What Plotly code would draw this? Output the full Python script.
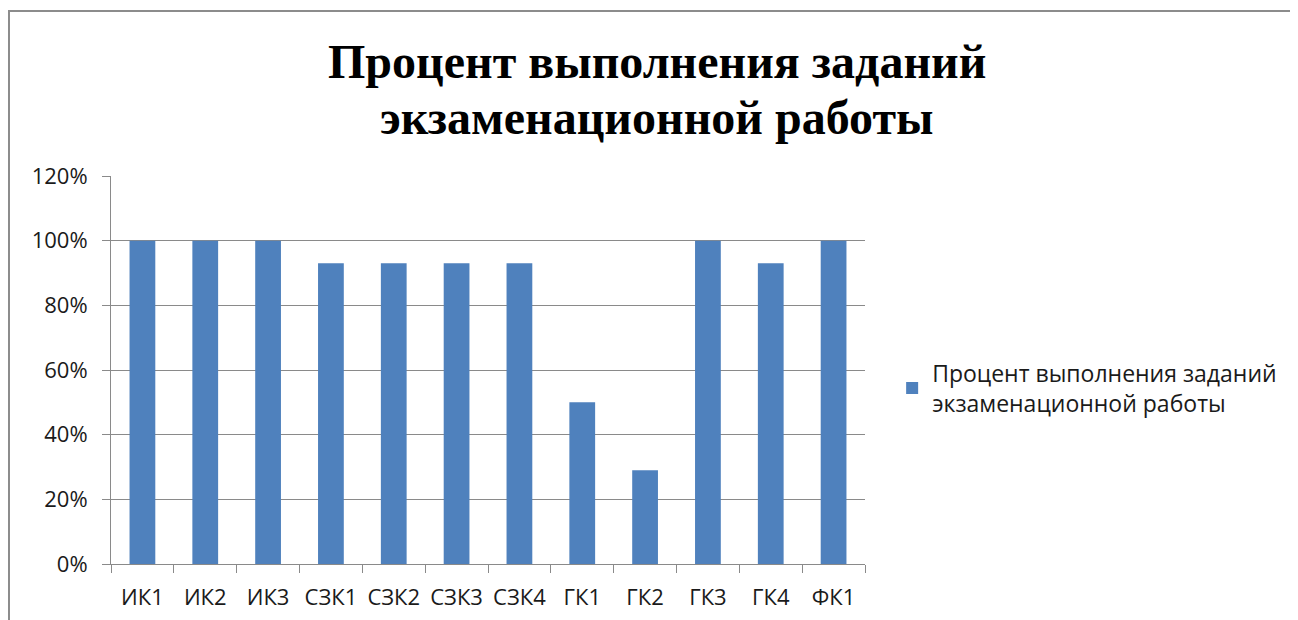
import plotly.graph_objects as go

categories = ["ИК1", "ИК2", "ИК3", "СЗК1", "СЗК2", "СЗК3", "СЗК4", "ГК1", "ГК2", "ГК3", "ГК4", "ФК1"]
percent_done = [1.00, 1.00, 1.00, 0.93, 0.93, 0.93, 0.93, 0.50, 0.29, 1.00, 0.93, 1.00]
series_name = "Процент выполнения заданий<br>экзаменационной работы"
title_lines = ["Процент выполнения заданий", "экзаменационной работы"]
y_ticks = [0, 0.2, 0.4, 0.6, 0.8, 1.0, 1.2]

fig = go.Figure()
fig.add_trace(go.Bar(
    x=categories,
    y=percent_done,
    name=series_name,
    marker=dict(color="#4F81BD", line=dict(width=0)),
    showlegend=True,
))

grid = "#8A8A8A"
# title as two lines so the line spacing can match the original
title_font = dict(family="Liberation Serif, Times New Roman, serif", size=48, color="black")
annotations = []
for line, ypos in zip(title_lines, [1.294, 1.152]):
    annotations.append(dict(
        text="<b>" + line + "</b>", xref="paper", yref="paper",
        x=0.724, y=ypos, xanchor="center", yanchor="middle",
        showarrow=False, font=title_font,
    ))

fig.update_layout(
    width=1298, height=620,
    paper_bgcolor="white", plot_bgcolor="white",
    margin=dict(l=103, r=441, t=168, b=64),
    bargap=0.59,
    font=dict(family="Open Sans, Liberation Sans, sans-serif", size=22, color="#1a1a1a"),
    annotations=annotations,
    legend=dict(
        x=1.036, y=0.4536, xanchor="left", yanchor="middle",
        font=dict(size=23, color="#1a1a1a"),
        itemsizing="constant",
    ),
    shapes=[dict(
        type="rect", xref="paper", yref="paper",
        x0=-0.1353, x1=2.0, y0=-1.0, y1=1.4253,
        line=dict(color="#8C8C8C", width=2), layer="below",
    )],
)
fig.update_xaxes(
    showline=True, linecolor=grid, linewidth=1,
    ticks="outside", tickson="boundaries", ticklen=8, tickcolor=grid,
    ticklabelstandoff=14,
    showgrid=False,
)
fig.update_yaxes(
    range=[0, 1.2], tickvals=y_ticks, tickformat=".0%",
    showline=True, linecolor=grid, linewidth=1,
    ticks="outside", ticklen=8, tickcolor=grid,
    ticklabelstandoff=10,
    showgrid=True, gridcolor=grid, gridwidth=1,
    zeroline=False,
)

fig.write_html("out.html")
